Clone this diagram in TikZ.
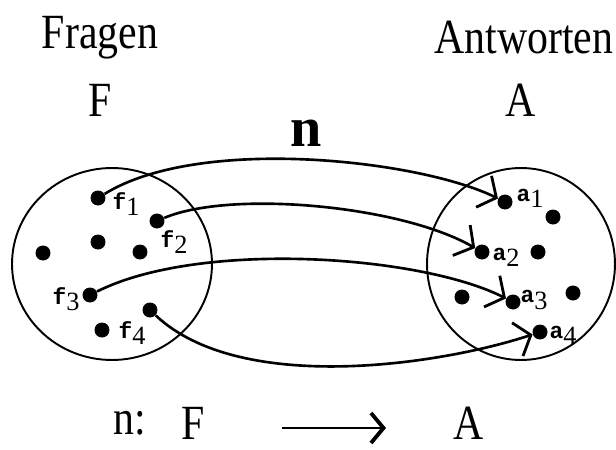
\documentclass[tikz,border=0pt]{standalone}
\usepackage{fontspec}
\setmainfont{Liberation Serif}
\newfontfamily\labfont{Liberation Mono}
\usetikzlibrary{arrows.meta}
\newcommand\lab[2]{{\labfont\bfseries #1}\raisebox{-0.6ex}{\fontsize{15}{15}\selectfont #2}}
\newcommand\bigtxt[1]{\scalebox{0.85}[1]{\fontsize{28}{30}\selectfont #1}}
\tikzset{
  dotn/.style={circle,fill=black,inner sep=0pt,minimum size=0.3cm},
  labn/.style={inner sep=0pt,font=\fontsize{13}{13}\selectfont},
  setc/.style={line width=1.1pt},
  mapc/.style={line width=1.5pt,-{Straight Barb[length=0.28cm,width=0.7cm,line width=1.6pt]}},
  title/.style={inner sep=0pt}
}
\begin{document}
\begin{tikzpicture}[x=0.02cm,y=-0.02cm]
\useasboundingbox (0,0) rectangle (616,450);
% titles
\node[title] (tf) at (100,38) {\bigtxt{Fragen}};
\node[title] (ta) at (524,38) {\bigtxt{Antworten}};
\node[title] (lf) at (100,100) {\bigtxt{F}};
\node[title] (la) at (521,100) {\bigtxt{A}};
\node[title] (nlab) at (306,133) {\fontsize{32}{32}\selectfont\bfseries n};
% sets
\draw[setc] (112,264) ellipse [x radius=2cm, y radius=1.92cm];
\draw[setc] (521,264) ellipse [x radius=1.88cm, y radius=1.92cm];
% left dots
\node[dotn] (f1) at (98,198) {};
\node[dotn] (f2) at (157,221) {};
\node[dotn] (l1) at (98,242) {};
\node[dotn] (l2) at (43,253) {};
\node[dotn] (l3) at (140,252) {};
\node[dotn] (f3) at (90,295) {};
\node[dotn] (f4s) at (150,310) {};
\node[dotn] (f4) at (102,330) {};
\node[labn] (tf1) at (126,204) {\lab{f}{1}};
\node[labn] (tf2) at (174,242) {\lab{f}{2}};
\node[labn] (tf3) at (66,299) {\lab{f}{3}};
\node[labn] (tf4) at (132,333) {\lab{f}{4}};
% right dots
\node[dotn] (a1) at (505,202) {};
\node[dotn] (r1) at (553,217) {};
\node[dotn] (a2) at (482,252) {};
\node[dotn] (r2) at (538,252) {};
\node[dotn] (r3) at (462,297) {};
\node[dotn] (a3) at (513,302) {};
\node[dotn] (r4) at (573,293) {};
\node[dotn] (a4) at (540,332) {};
\node[labn] (ta1) at (530,198) {\lab{a}{1}};
\node[labn] (ta2) at (506,257) {\lab{a}{2}};
\node[labn] (ta3) at (534,300) {\lab{a}{3}};
\node[labn] (ta4) at (563,335) {\lab{a}{4}};
% mapping
\draw[mapc] (f1) .. controls (200,135) and (420,160) .. (a1);
\draw[mapc] (f2) .. controls (230,190) and (400,205) .. (a2);
\draw[mapc] (f3) .. controls (200,240) and (420,255) .. (a3);
\draw[mapc] (f4s) .. controls (240,395) and (440,365) .. (a4);
% bottom line
\node[title] (bn) at (130,423) {\bigtxt{n:}};
\node[title] (bf) at (193,423) {\bigtxt{F}};
\node[title] (ba) at (469,423) {\bigtxt{A}};
\coordinate (bs) at (282,428);
\coordinate (be) at (386,428);
\draw[line width=1.4pt,-{Straight Barb[length=0.25cm,width=0.6cm,line width=2.2pt]}] (bs) -- (be);
\end{tikzpicture}
\end{document}
